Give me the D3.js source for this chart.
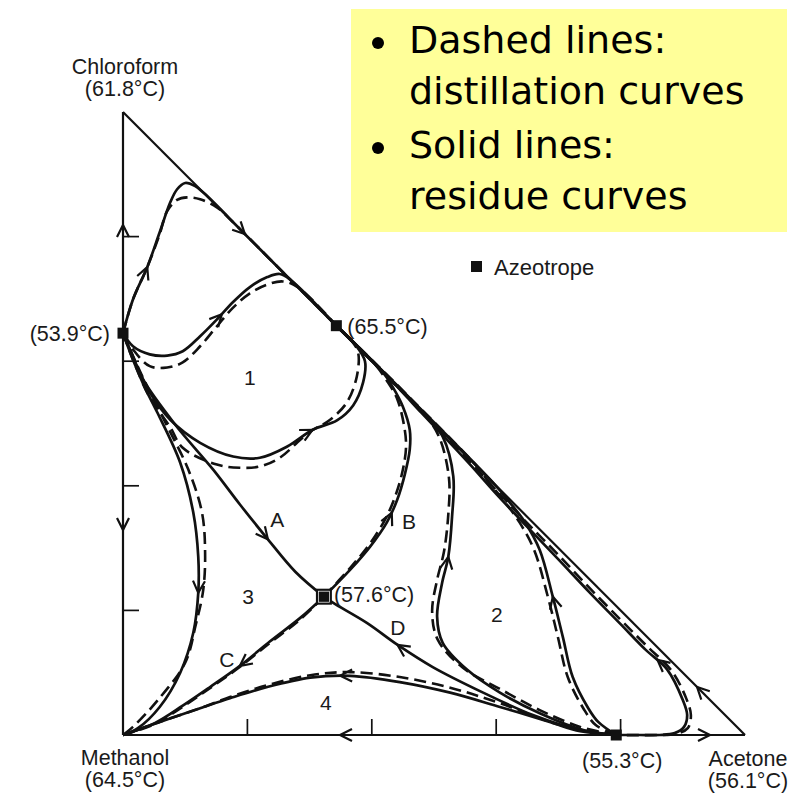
<!DOCTYPE html>
<html>
<head>
<meta charset="utf-8">
<script src="https://cdn.jsdelivr.net/npm/d3@7"></script>
<style>
  body { margin: 0; background: #fff; }
  text { font-family: "Liberation Sans", Arial, Helvetica, sans-serif; fill: #1a1a1a; }
</style>
</head>
<body>
<svg id="chart" width="807" height="793"></svg>
<script>
// Compositions are mole % as [acetone, chloroform]; methanol is the remainder.
const pureComponents = [
  { name: "Methanol",   bp: "(64.5°C)", at: [0, 0] },
  { name: "Chloroform", bp: "(61.8°C)", at: [0, 100] },
  { name: "Acetone",    bp: "(56.1°C)", at: [100, 0] }
];

const azeotropes = [
  { label: "(53.9°C)", at: [0, 64.5],     ternary: false },
  { label: "(65.5°C)", at: [34.3, 65.7],  ternary: false },
  { label: "(57.6°C)", at: [32.3, 22.2],  ternary: true },
  { label: "(55.3°C)", at: [79.3, 0],     ternary: false }
];

const tickValues = [20, 40, 60, 80];

// Residue curves (solid)
const residueCurves = {
  R1a: [[0,64.5],[1.6,69.9],[3.9,75.1],[5.9,80.7],[7.6,85.5],[8.7,87.6],[10.0,88.6],[11.6,88.1],[13.1,86.9],[20,80],[34.3,65.7]],
  R1b: [[0,64.5],[1.6,62.4],[4.3,61.1],[7.1,60.9],[9.6,61.6],[12.4,64.0],[15.1,66.7],[17.7,69.5],[20.4,71.9],[23.2,73.5],[25.2,74.0],[27.0,73.0],[34.3,65.7]],
  R1c: [[0,64.5],[1.9,60.0],[4.3,55.0],[7.6,50.6],[12.4,46.9],[17.7,44.7],[22.0,44.5],[26.4,46.3],[30.5,49.0],[34.4,50.5],[37.0,52.9],[38.6,56.6],[38.9,60.0],[37.4,62.6],[34.3,65.7]],
  A:   [[0,64.5],[1.1,61.9],[3.2,57.1],[8.4,49.8],[14.5,42.6],[18.8,37.0],[23.3,31.4],[27.7,26.2],[32.3,22.2]],
  B:   [[32.3,22.2],[36.5,26.5],[39.7,30.2],[42.4,34.1],[44.1,37.8],[45.3,41.8],[46.1,45.8],[46.1,49.0],[45.0,52.7],[43.4,55.8],[41.8,58.2],[34.3,65.7]],
  C:   [[32.3,22.2],[28.5,18.8],[23.6,15.0],[18.8,11.1],[14.0,7.7],[9.6,4.7],[5.1,1.9],[0,0]],
  D:   [[32.3,22.2],[33.8,21.2],[39.2,18.0],[44.1,14.5],[49.8,10.9],[57.9,6.8],[65.9,3.2],[73.5,0.8],[79.3,0]],
  R2a: [[79.3,0],[74.0,0.8],[67.0,3.5],[60.6,6.8],[55.3,10.5],[51.4,14.8],[50.5,19.0],[51.3,24.4],[52.3,28.6],[52.9,35.0],[53.1,41.5],[51.4,47.9],[48.9,51.1],[34.3,65.7]],
  R2b: [[79.3,0],[76.4,2.1],[74.8,4.3],[72.3,9.3],[70.7,15.8],[69.1,22.2],[67.0,29.7],[64.6,34.2],[62.2,37.3],[59.6,40.4],[34.3,65.7]],
  R2c: [[34.3,65.7],[44,56],[48,51.7],[52,47.5],[56,43.2],[60,38.7],[65,33.4],[70,28.2],[75,22.9],[80,17.8],[84,13.7],[87.5,10.5],[90.0,5.6],[90.7,3.2],[90.2,1.3],[88.7,0.3],[86.3,0],[83.1,0],[79.3,0]],
  R3a: [[0,64.5],[1.9,59.5],[3.5,55.8],[5.5,51.8],[9.2,43.7],[11.3,35.7],[12.1,28.6],[12.1,22.8],[11.3,16.4],[9.2,10.0],[5.9,4.5],[2.4,1.1],[0,0]],
  R4a: [[79.3,0],[73.5,0.6],[68.6,2.1],[60.6,4.5],[52.6,6.8],[44.5,8.5],[36.5,9.5],[30.1,9.2],[23.2,7.7],[17.2,5.9],[12.4,4.3],[5.9,2.1],[0,0]]
};

// Distillation curves (dashed)
const distillationCurves = {
  D1a: [[0,64.5],[1.6,69.9],[3.9,75.1],[5.9,80.4],[7.1,84.1],[8.7,85.9],[10.3,86.3],[12.4,86.0],[15.1,84.7],[17.5,82.5],[26,74],[34.3,65.7]],
  D1b: [[0,64.5],[1.6,61.9],[4.3,59.2],[7.1,59.0],[9.6,59.8],[12.4,62.4],[15.1,65.6],[17.7,68.6],[20.4,70.9],[23.2,72.3],[25.7,72.8],[28.1,71.9],[34.3,65.7]],
  D1c: [[0,64.5],[1.9,59.5],[4.3,54.2],[7.6,49.4],[9.6,46.1],[15.1,43.4],[18.8,42.9],[22.0,43.1],[25.2,44.5],[28.5,47.4],[30.1,48.7],[33.3,50.6],[36.0,53.4],[37.6,57.6],[37.8,61.4],[36.8,63.2],[34.3,65.7]],
  DB:  [[32.3,22.2],[36.5,26.8],[39.7,30.7],[42.3,34.9],[43.9,38.7],[45.0,42.6],[45.5,46.1],[45.3,49.0],[44.1,53.9],[42.4,56.9],[40.5,59.5],[34.3,65.7]],
  DC:  [[32.3,22.2],[28.3,18.4],[23.4,14.6],[18.6,10.8],[13.8,7.4],[9.4,4.4],[5.0,1.7],[0,0]],
  D2a: [[79.3,0],[73.5,1.3],[67.0,4.0],[60.6,7.4],[54.5,10.9],[50.6,15.3],[49.7,19.8],[50.5,24.9],[51.6,29.4],[52.3,35.4],[52.4,41.3],[50.8,47.9],[48.2,51.8],[34.3,65.7]],
  D2b: [[79.3,0],[76.0,1.6],[74.0,4.3],[71.5,9.3],[69.9,15.8],[68.3,22.2],[66.1,29.7],[63.7,34.2],[61.1,37.8],[58.7,40.7],[57.1,42.9],[34.3,65.7]],
  D2c: [[34.3,65.7],[44,56],[50,49.8],[56,43.6],[60,39.3],[65,34.0],[70,28.9],[75,23.6],[80,18.5],[84,14.5],[88.2,10.3],[90.5,6.0],[91.3,3.2],[90.8,1.1],[89.0,0.2],[86,0],[79.3,0]],
  D3a: [[0,64.5],[2.3,59.3],[4.7,54.3],[7.2,49.4],[10.5,42.6],[12.7,35.7],[13.2,29.3],[12.9,23.3],[11.7,17.7],[10.0,11.6],[5.6,5.6],[1.6,1.3],[0,0]],
  D4a: [[79.3,0],[70.3,1.6],[60.6,5.1],[52.6,7.6],[44.5,9.3],[36.5,10.1],[30.1,9.6],[23.2,8.0],[17.2,6.1],[12.4,4.3],[5.9,2.1],[0,0]]
};

// Direction arrows: which path, where along it, and whether they point against drawing order
const arrows = [
  { path: "edgeLeft",   at: [0, 81.9],    rev: false },
  { path: "edgeLeft",   at: [0, 32.9],    rev: true },
  { path: "edgeBottom", at: [34.9, 0],    rev: true },
  { path: "edgeBottom", at: [94.4, 0],    rev: false },
  { path: "edgeHyp",    at: [19.6, 80.4], rev: false },
  { path: "edgeHyp",    at: [92.3, 7.7],  rev: true },
  { path: "R1a", at: [3.9, 75.1],   rev: false },
  { path: "R1b", at: [15.6, 67.8],  rev: false },
  { path: "R1c", at: [30.5, 49.0],  rev: false },
  { path: "A",   at: [23.3, 31.4],  rev: false },
  { path: "B",   at: [43.4, 35.6],  rev: false },
  { path: "C",   at: [18.8, 11.1],  rev: false },
  { path: "D",   at: [44.1, 14.5],  rev: true },
  { path: "R2a", at: [52.3, 28.6],  rev: false },
  { path: "R2b", at: [69.1, 22.2],  rev: false },
  { path: "R2c", at: [85.9, 12.0],  rev: true },
  { path: "R3a", at: [12.1, 22.8],  rev: false },
  { path: "R4a", at: [34.9, 9.4],   rev: false }
];

const regionLabels = [
  { text: "1", at: [20.4, 57.5] },
  { text: "2", at: [60.1, 19.5] },
  { text: "3", at: [20.1, 22.3] },
  { text: "4", at: [32.6, 5.3] },
  { text: "A", at: [24.8, 34.6] },
  { text: "B", at: [46.0, 34.4] },
  { text: "C", at: [16.7, 12.2] },
  { text: "D", at: [44.2, 17.3] }
];

const legendLines = [
  ["Dashed lines:", "distillation curves"],
  ["Solid lines:", "residue curves"]
];

const svg = d3.select("#chart");
const x = d3.scaleLinear().domain([0, 100]).range([123, 745]);
const y = d3.scaleLinear().domain([0, 100]).range([735, 112]);

const smooth = d3.line().x(d => x(d[0])).y(d => y(d[1])).curve(d3.curveCatmullRom.alpha(0.5));
const straight = d3.line().x(d => x(d[0])).y(d => y(d[1]));

const paths = {};
const plot = svg.append("g");

// Residue and distillation curves
Object.entries(distillationCurves).forEach(([k, pts]) => {
  paths[k] = plot.append("path").datum(pts).attr("d", smooth)
    .attr("fill", "none").attr("stroke", "#111").attr("stroke-width", 2.6)
    .attr("stroke-dasharray", "12,6").node();
});
Object.entries(residueCurves).forEach(([k, pts]) => {
  paths[k] = plot.append("path").datum(pts).attr("d", smooth)
    .attr("fill", "none").attr("stroke", "#111").attr("stroke-width", 2.7).node();
});

// Triangle edges
const [M, Cf, Ac] = pureComponents.map(d => d.at);
const edges = { edgeLeft: [M, Cf], edgeBottom: [M, Ac], edgeHyp: [Cf, Ac] };
Object.entries(edges).forEach(([k, pts]) => {
  paths[k] = plot.append("path").datum(pts).attr("d", straight)
    .attr("fill", "none").attr("stroke", "#111").attr("stroke-width", 2.2).node();
});

// Ticks on the two axes
const ticks = plot.append("g").attr("stroke", "#111").attr("stroke-width", 1.7);
tickValues.forEach(v => {
  ticks.append("line").attr("x1", x(0)).attr("x2", x(0) + 16).attr("y1", y(v)).attr("y2", y(v));
  ticks.append("line").attr("x1", x(v)).attr("x2", x(v)).attr("y1", y(0)).attr("y2", y(0) - 16);
});

// Arrow heads oriented along their path
function placeArrow(node, target, rev) {
  const L = node.getTotalLength();
  const tx = x(target[0]), ty = y(target[1]);
  let best = 0, bd = Infinity;
  for (let s = 0; s <= L; s += 0.5) {
    const p = node.getPointAtLength(s);
    const d = (p.x - tx) ** 2 + (p.y - ty) ** 2;
    if (d < bd) { bd = d; best = s; }
  }
  const p0 = node.getPointAtLength(Math.max(0, best - 3));
  const p1 = node.getPointAtLength(Math.min(L, best + 3));
  let ang = Math.atan2(p1.y - p0.y, p1.x - p0.x) * 180 / Math.PI;
  if (rev) ang += 180;
  const tip = node.getPointAtLength(best);
  plot.append("path").attr("d", "M-12,-6L0,0L-12,6")
    .attr("transform", `translate(${tip.x},${tip.y}) rotate(${ang})`)
    .attr("fill", "none").attr("stroke", "#111").attr("stroke-width", 2.2);
}
arrows.forEach(a => placeArrow(paths[a.path], a.at, a.rev));

// Azeotrope markers (the ternary saddle gets a thin inner ring)
azeotropes.forEach(a => {
  const cx = x(a.at[0]), cy = y(a.at[1]);
  if (a.ternary) {
    plot.append("rect").attr("x", cx - 8).attr("y", cy - 8).attr("width", 16).attr("height", 16).attr("fill", "#111");
    plot.append("rect").attr("x", cx - 5.5).attr("y", cy - 5.5).attr("width", 11).attr("height", 11)
      .attr("fill", "#111").attr("stroke", "#fff").attr("stroke-width", 0.7);
  } else {
    plot.append("rect").attr("x", cx - 5.5).attr("y", cy - 5.5).attr("width", 11).attr("height", 11).attr("fill", "#111");
  }
});

// Azeotrope temperature labels
const azLabel = svg.append("g").attr("font-size", 21.5);
azLabel.append("text").attr("x", x(azeotropes[0].at[0]) - 13).attr("y", y(azeotropes[0].at[1]) + 8)
  .attr("text-anchor", "end").text(azeotropes[0].label);
azLabel.append("text").attr("x", x(azeotropes[1].at[0]) + 11).attr("y", y(azeotropes[1].at[1]) + 8)
  .text(azeotropes[1].label);
azLabel.append("text").attr("x", x(azeotropes[2].at[0]) + 10).attr("y", y(azeotropes[2].at[1]) + 5)
  .text(azeotropes[2].label);
azLabel.append("text").attr("x", x(azeotropes[3].at[0]) + 6).attr("y", y(azeotropes[3].at[1]) + 33)
  .attr("text-anchor", "middle").text(azeotropes[3].label);

// Pure component labels: name over boiling point, one text block each
const comp = svg.append("g").attr("font-size", 21.5).attr("text-anchor", "middle");
function twoLine(cx, top, a, b, gap) {
  const t = comp.append("text").attr("y", top);
  t.append("tspan").attr("x", cx).text(a);
  t.append("tspan").attr("x", cx).attr("dy", gap).text(b);
}
twoLine(x(0) + 2, y(100) - 38, pureComponents[1].name, pureComponents[1].bp, 22);
twoLine(x(0) + 2, y(0) + 30, pureComponents[0].name, pureComponents[0].bp, 22);
twoLine(x(100) + 3, y(0) + 31, pureComponents[2].name, pureComponents[2].bp, 22);

// Region and separatrix labels
svg.append("g").attr("font-size", 21).attr("text-anchor", "middle")
  .selectAll("text").data(regionLabels).join("text")
  .attr("x", d => x(d.at[0])).attr("y", d => y(d.at[1]) + 8).text(d => d.text);

// Azeotrope key
svg.append("rect").attr("x", 471).attr("y", 261).attr("width", 11).attr("height", 11).attr("fill", "#111");
svg.append("text").attr("x", 494).attr("y", 275).attr("font-size", 22).text("Azeotrope");

// Line-style note
const note = svg.append("g");
note.append("rect").attr("x", 351).attr("y", 9).attr("width", 436).attr("height", 223).attr("fill", "#ffff99");
const baselines = [53, 158];
legendLines.forEach((pair, i) => {
  note.append("circle").attr("cx", 378).attr("cy", baselines[i] - 10).attr("r", 6).attr("fill", "#000");
  const t = note.append("text").attr("y", baselines[i])
    .style("font-family", "'DejaVu Sans', sans-serif").style("fill", "#000").attr("font-size", 38);
  t.append("tspan").attr("x", 409).text(pair[0]);
  t.append("tspan").attr("x", 409).attr("dy", 51).text(pair[1]);
});
</script>
</body>
</html>
